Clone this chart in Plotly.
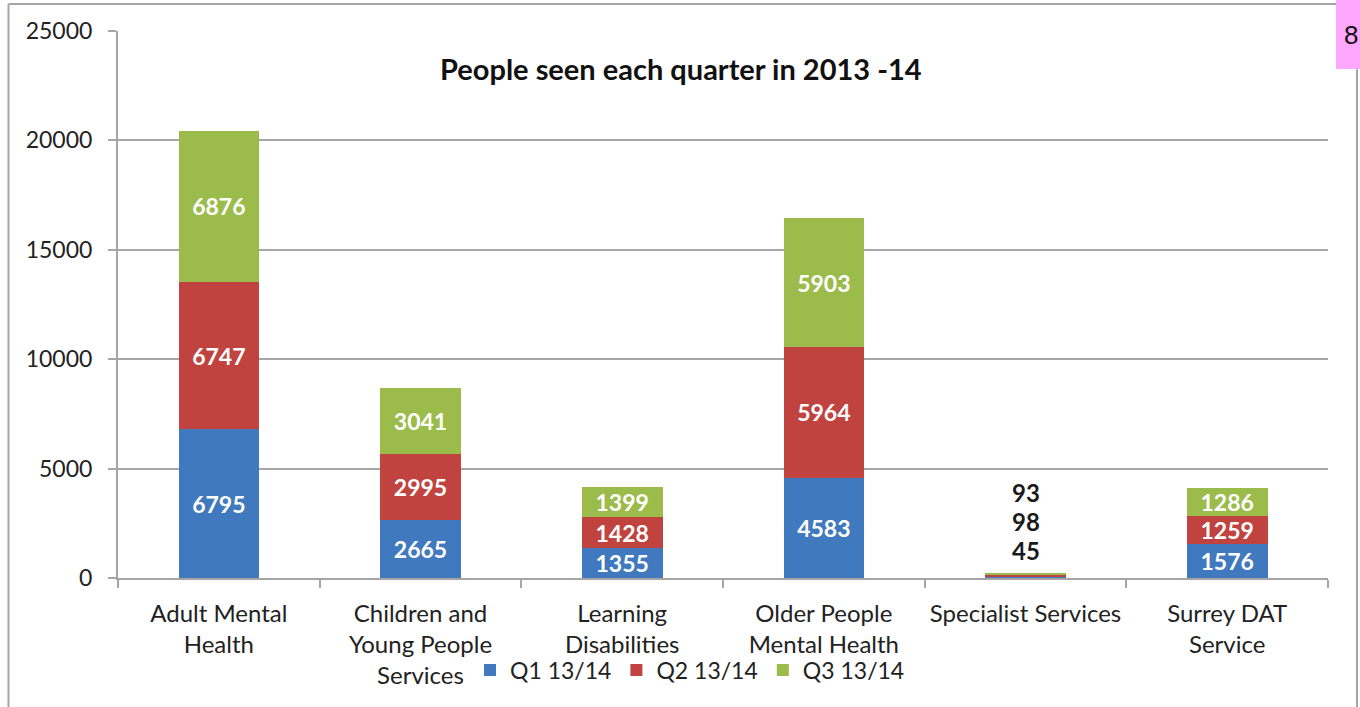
import plotly.graph_objects as go

categories = ["Adult Mental<br>Health", "Children and<br>Young People<br>Services", "Learning<br>Disabilities",
              "Older People<br>Mental Health", "Specialist Services", "Surrey DAT<br>Service"]
q1 = [6795, 2665, 1355, 4583, 45, 1576]
q2 = [6747, 2995, 1428, 5964, 98, 1259]
q3 = [6876, 3041, 1399, 5903, 93, 1286]
series_names = ["Q1 13/14", "Q2 13/14", "Q3 13/14"]
colors = ["#4179BE", "#C0433F", "#9BBB4B"]
y_ticks = [0, 5000, 10000, 15000, 20000, 25000]
small_idx = 4  # Specialist Services: labels drawn above bar

W, H = 1360, 707
L, R, T, B = 118, 1328, 31, 578
FONT = "Lato, 'Open Sans', sans-serif"

fig = go.Figure()
for name, vals, col in zip(series_names, [q1, q2, q3], colors):
    texts = ["" if i == small_idx else str(v) for i, v in enumerate(vals)]
    fig.add_trace(go.Bar(
        x=categories, y=vals, name=name, marker=dict(color=col, line=dict(width=0)),
        text=texts, textposition="inside", insidetextanchor="middle", constraintext="none",
        textfont=dict(color="white", size=23, family=FONT, weight="bold"),
        textangle=0, cliponaxis=False, hoverinfo="skip",
    ))

# Specialist labels above the tiny bar
total_small = q1[small_idx] + q2[small_idx] + q3[small_idx]
for k, vals in enumerate([q1, q2, q3]):
    fig.add_annotation(x=categories[small_idx], y=total_small, text="<b>%d</b>" % vals[small_idx],
                       showarrow=False, yanchor="middle", yshift=22 + 29 * k,
                       font=dict(size=24, color="#1a1a1a", family=FONT))

def px_x(p):
    return (p - L) / (R - L)

def px_y(p):
    return (B - p) / (B - T)

shapes = [
    # outer chart border
    dict(type="line", xref="paper", yref="paper", x0=px_x(8.5), x1=px_x(8.5), y0=px_y(4), y1=px_y(707), line=dict(color="#A6A6A6", width=2)),
    dict(type="line", xref="paper", yref="paper", x0=px_x(8.5), x1=px_x(1336), y0=px_y(4), y1=px_y(4), line=dict(color="#A6A6A6", width=2)),
    dict(type="line", xref="paper", yref="paper", x0=px_x(1357), x1=px_x(1357), y0=px_y(69), y1=px_y(707), line=dict(color="#A6A6A6", width=2)),
    # pink page tab
    dict(type="rect", xref="paper", yref="paper", x0=px_x(1336), x1=px_x(1362), y0=px_y(0), y1=px_y(69),
         fillcolor="#FFA6FF", line=dict(width=0)),
]

annotations_extra = [
    dict(xref="paper", yref="paper", x=px_x(1342), y=px_y(35), text="8", showarrow=False,
         xanchor="left", yanchor="middle", font=dict(size=26, color="#111", family="Liberation Sans, Arial")),
    dict(xref="paper", yref="paper", x=px_x(681), y=px_y(68), text="<b>People seen each quarter in 2013 -14</b>",
         showarrow=False, xanchor="center", yanchor="middle", font=dict(size=29, color="#111", family=FONT)),
]
for a in annotations_extra:
    fig.add_annotation(**a)

fig.update_layout(
    barmode="stack", bargap=0.6,
    width=W, height=H,
    margin=dict(l=L, r=W - R, t=T, b=H - B, autoexpand=False),
    paper_bgcolor="white", plot_bgcolor="white",
    font=dict(family=FONT, size=24, color="#222"),
    shapes=shapes,
    showlegend=True,
    legend=dict(orientation="h", xref="paper", yref="paper", x=px_x(690), xanchor="center",
                y=px_y(670), yanchor="middle", font=dict(size=23, color="#222", family=FONT),
                itemwidth=30, traceorder="normal", bgcolor="rgba(0,0,0,0)"),
)
fig.update_xaxes(
    showline=True, linecolor="#A6A6A6", linewidth=2, tickson="boundaries",
    ticks="outside", ticklen=8, tickcolor="#A6A6A6", tickwidth=2,
    tickfont=dict(size=24, color="#222", family=FONT), showgrid=False,
    ticklabelstandoff=13, fixedrange=True,
)
fig.update_yaxes(
    range=[0, 25000], tickvals=y_ticks, ticktext=[str(v) for v in y_ticks],
    showline=True, linecolor="#A6A6A6", linewidth=2,
    ticks="outside", ticklen=8, tickcolor="#A6A6A6", tickwidth=2,
    showgrid=True, gridcolor="#A6A6A6", gridwidth=2, zeroline=False,
    tickfont=dict(size=23, color="#222", family=FONT), ticklabelstandoff=11,
    fixedrange=True,
)

fig.write_html("out.html", config={"displayModeBar": False},
               post_script="document.body.style.margin='0';")
